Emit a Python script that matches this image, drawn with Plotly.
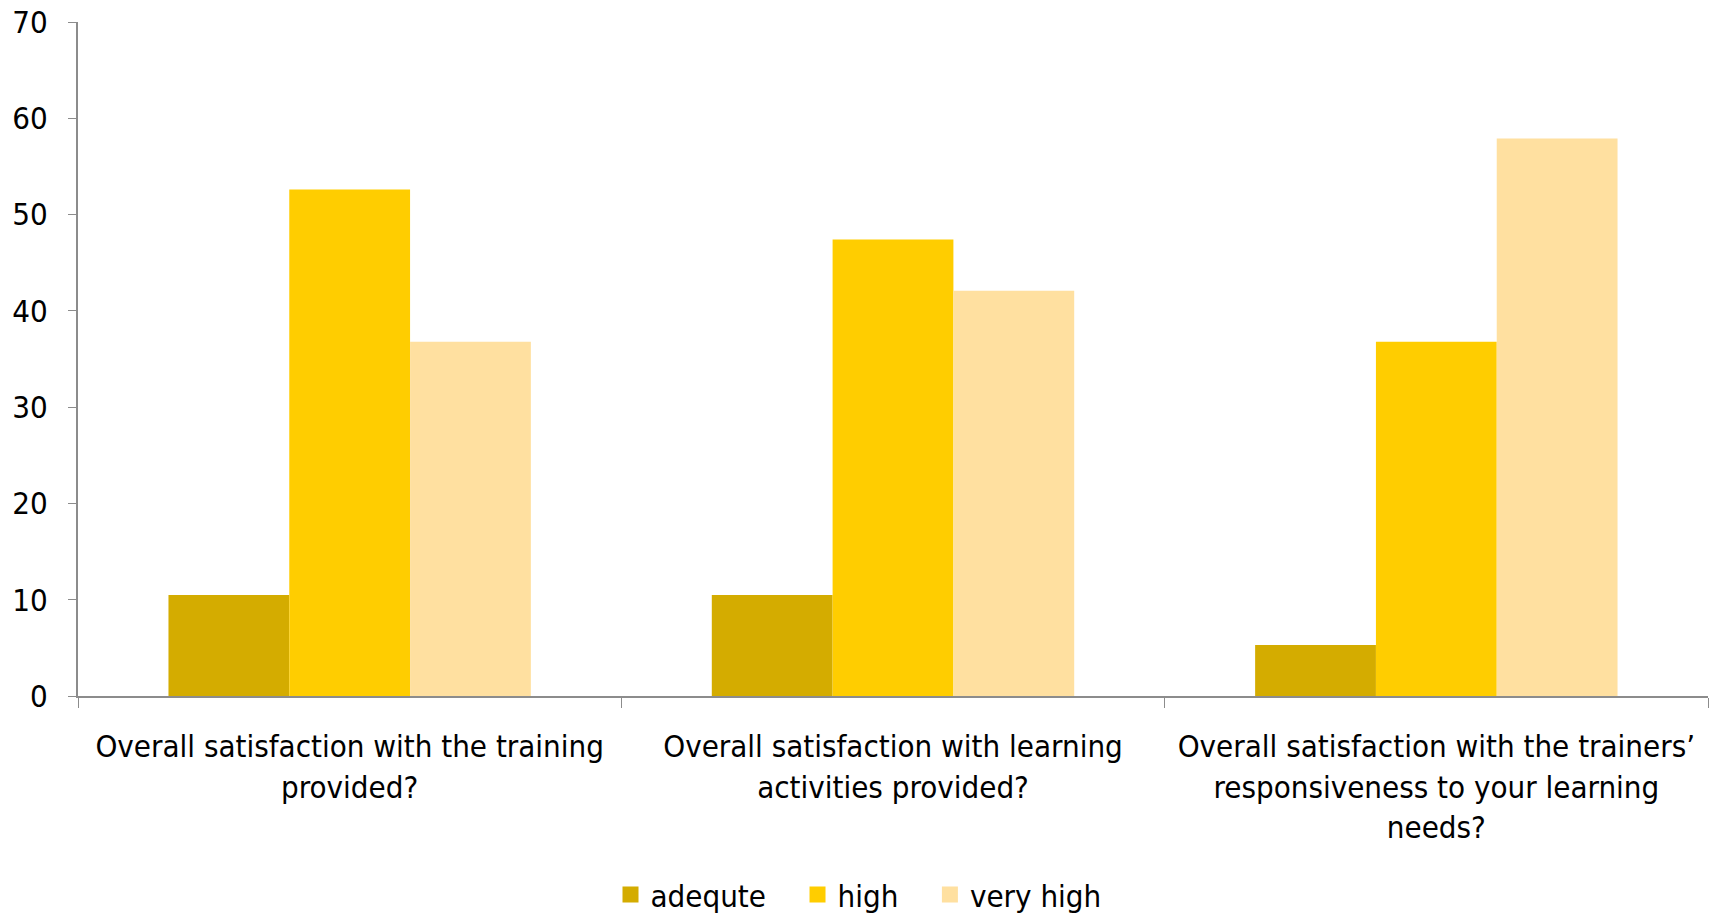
import plotly.graph_objects as go

categories = [
    "Overall satisfaction with the training<br>provided?",
    "Overall satisfaction with learning<br>activities provided?",
    "Overall satisfaction with the trainers’<br>responsiveness to your learning<br>needs?",
]
adequte = [10.5, 10.5, 5.3]
high = [52.6, 47.4, 36.8]
very_high = [36.8, 42.1, 57.9]
series_names = ["adequte", "high", "very high"]

colors = ["rgb(212,172,0)", "rgb(255,205,0)", "rgb(255,224,160)"]
series = list(zip(series_names, [adequte, high, very_high], colors))

FONT = "Tahoma, 'DejaVu Sans Condensed', 'DejaVu Sans', sans-serif"
FS = 31
PAD = "\u00a0\u00a0\u00a0"

fig = go.Figure()
for name, vals, col in series:
    fig.add_trace(go.Bar(x=categories, y=vals, name=name, marker_color=col,
                         marker_line_width=0, showlegend=False, legendgroup=name))
for i, (name, vals, col) in enumerate(series):
    label = name + (PAD if i < len(series) - 1 else "")
    fig.add_trace(go.Scatter(x=[None], y=[None], mode="markers", name=label,
                             legendgroup=name,
                             marker=dict(symbol="square", size=18, color=col)))

fig.update_layout(
    width=1717, height=915,
    paper_bgcolor="white", plot_bgcolor="white",
    barmode="group", bargap=0.333, bargroupgap=0,
    margin=dict(l=78, r=9, t=22, b=219),
    font=dict(family=FONT, size=FS, color="black"),
    legend=dict(orientation="h", x=0.5, xanchor="center", xref="container",
                y=0.022, yanchor="middle", yref="container",
                font=dict(size=FS), itemwidth=30, tracegroupgap=0),
    showlegend=True,
)
fig.update_xaxes(showline=True, linecolor="#8c8c8c", linewidth=2, automargin=False,
                 ticks="outside", tickson="boundaries", ticklen=10, tickcolor="#8c8c8c",
                 tickfont=dict(size=FS), ticklabelstandoff=22, tickangle=0)
fig.update_yaxes(range=[0, 70], dtick=10, showline=True, linecolor="#8c8c8c", linewidth=2,
                 ticks="outside", ticklen=8, tickcolor="#8c8c8c", showgrid=False,
                 zeroline=False, tickfont=dict(size=FS), automargin=False,
                 ticklabelstandoff=14)

fig.write_html("out.html")
